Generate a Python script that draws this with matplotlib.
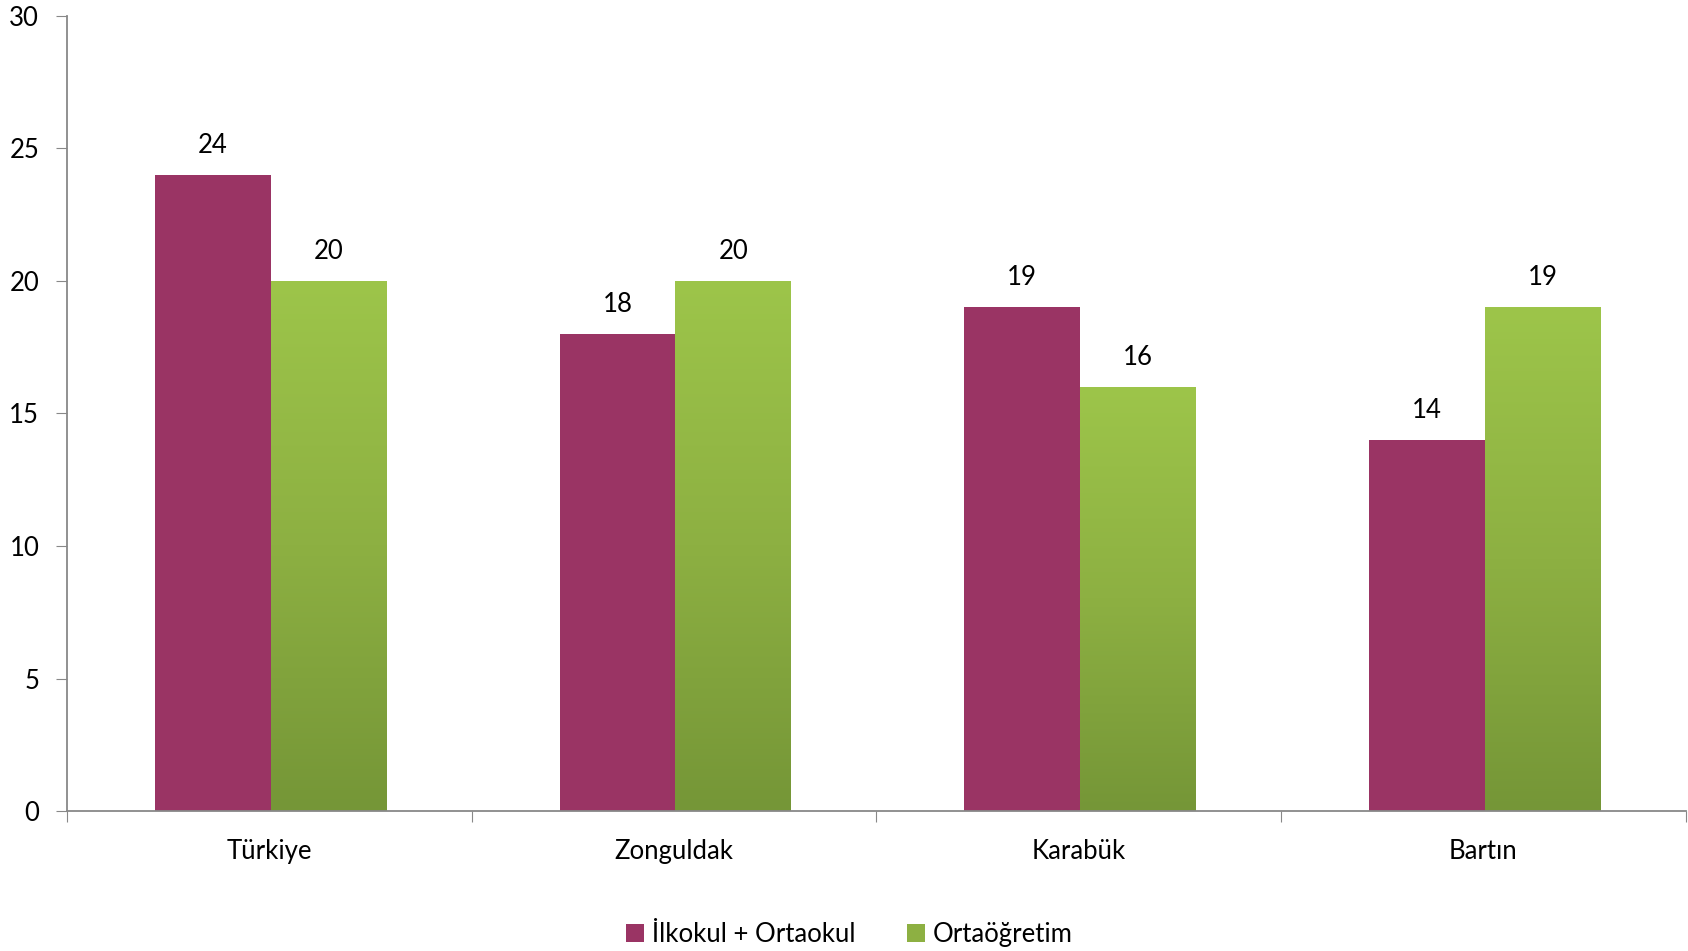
import matplotlib
matplotlib.use("Agg")
import matplotlib.pyplot as plt
import numpy as np
from matplotlib.colors import LinearSegmentedColormap
from matplotlib.patches import Patch

plt.rcParams['font.family'] = ['Lato', 'DejaVu Sans']

categories = ["Türkiye", "Zonguldak", "Karabük", "Bartın"]
ilk_orta = [24, 18, 19, 14]
ortaogretim = [20, 20, 16, 19]
series_names = ["İlkokul + Ortaokul", "Ortaöğretim"]

magenta = "#9A3464"
green_cmap = LinearSegmentedColormap.from_list(
    "grn", [(0.0, "#759637"), (0.5, "#8DB042"), (1.0, "#9DC54A")])

fig = plt.figure(figsize=(16.88, 9.51), dpi=100)
ax = fig.add_axes([0.0397, 0.1472, 0.959, 0.836])

x = np.arange(len(categories)) + 0.5
w = 0.286

bars1 = ax.bar(x - w / 2 + 0.003, ilk_orta, w, color=magenta, zorder=2)
bars2 = ax.bar(x + w / 2 + 0.003, ortaogretim, w, color="none", zorder=2)

# vertical gradient for the green bars
grad = np.linspace(0, 1, 256).reshape(-1, 1)
for b in bars2:
    x0, y0 = b.get_x(), b.get_y()
    bw, bh = b.get_width(), b.get_height()
    im = ax.imshow(grad, cmap=green_cmap, origin="lower", aspect="auto",
                   extent=[x0, x0 + bw, y0, y0 + bh], zorder=2)
    im.set_clip_path(b)

fs = 18.5
for b, v in zip(bars1, ilk_orta):
    ax.text(b.get_x() + b.get_width() / 2, v + 0.65, str(v),
            ha="center", va="bottom", fontsize=fs)
for b, v in zip(bars2, ortaogretim):
    ax.text(b.get_x() + b.get_width() / 2, v + 0.65, str(v),
            ha="center", va="bottom", fontsize=fs)

ax.set_xlim(0, len(categories))
ax.set_ylim(0, 30)
ax.set_yticks(range(0, 31, 5))
ax.set_xticks(range(0, len(categories) + 1))
ax.set_xticklabels([])
ax.set_xticks(x, minor=True)
ax.set_xticklabels(categories, minor=True)
ax.tick_params(axis="x", which="minor", length=0, pad=20, labelsize=fs)
ax.tick_params(axis="x", which="major", length=8, color="#888888", direction="out")
ax.tick_params(axis="y", length=8, color="#888888", labelsize=fs, pad=12)

for s in ["top", "right"]:
    ax.spines[s].set_visible(False)
for s in ["left", "bottom"]:
    ax.spines[s].set_color("#888888")
    ax.spines[s].set_linewidth(1.3)

handles = [Patch(facecolor=magenta), Patch(facecolor="#8DB042")]
fig.legend(handles, series_names, loc="center", bbox_to_anchor=(0.503, 0.017),
           ncol=2, frameon=False, fontsize=fs, handlelength=0.7, handleheight=0.7,
           handletextpad=0.3, columnspacing=2.0)

fig.savefig("out.png", dpi=100)
